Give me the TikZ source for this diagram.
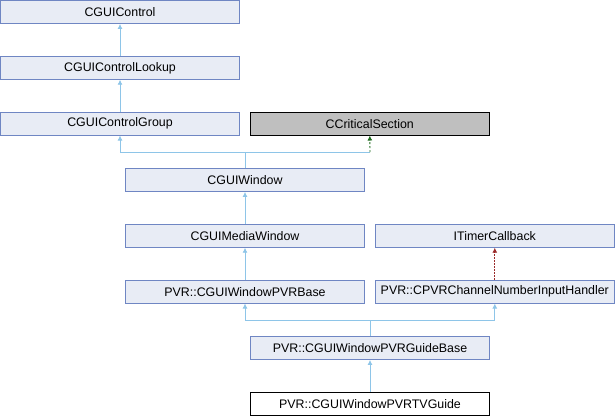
\documentclass[tikz,border=0pt]{standalone}
\usepackage{fontspec}
\setmainfont{Liberation Sans}
\usetikzlibrary{arrows.meta,positioning}
\definecolor{boxfill}{HTML}{E8ECF5}
\definecolor{boxline}{HTML}{6F86C3}
\definecolor{edgeblue}{HTML}{8EC5E8}
\definecolor{critfill}{HTML}{BFBFBF}
\definecolor{protgreen}{HTML}{1E6B1E}
\definecolor{privred}{HTML}{9A2A2A}
\tikzset{
 box/.style={draw=boxline,fill=boxfill,line width=0.8pt,minimum width=239pt,
             minimum height=23pt,inner sep=0pt,font=\fontsize{12.4}{15}\selectfont},
 arrow/.style={-{Latex[length=5pt,width=5pt]},edgeblue,line width=0.9pt},
}
\begin{document}
\begin{tikzpicture}[x=1pt,y=-1pt,node distance=32pt and 10pt]
\useasboundingbox (0,0) rectangle (615,416);
\node[box] (ctrl) at (120,12) {CGUIControl};
\node[box,below=of ctrl] (lookup) {CGUIControlLookup};
\node[box,below=of lookup] (group) {CGUIControlGroup};
\node[box,draw=black,fill=critfill,right=10pt of group] (crit) {CCriticalSection};
\node[box] (win) at (245,180) {CGUIWindow};
\node[box,below=of win] (media) {CGUIMediaWindow};
\node[box,right=10pt of media] (timer) {ITimerCallback};
\node[box,below=of media] (pvrbase) {PVR::CGUIWindowPVRBase};
\node[box,right=10pt of pvrbase] (handler) {PVR::CPVRChannelNumberInputHandler};
\node[box] (guidebase) at (370,348) {PVR::CGUIWindowPVRGuideBase};
\node[box,draw=black,fill=white,below=of guidebase] (tvguide) {PVR::CGUIWindowPVRTVGuide};
\coordinate (wj) at (245,152);
\coordinate (cj) at (370,152);
\coordinate (gj) at (370,320);
\draw[arrow] (lookup) -- (ctrl);
\draw[arrow] (group) -- (lookup);
\draw[arrow] (win.north) -- (wj) -| (group.south);
\draw[edgeblue,line width=0.9pt] (wj) -- (cj);
\draw[arrow,protgreen,dash pattern=on 2pt off 2pt] (cj) -- (crit.south);
\draw[arrow] (media) -- (win);
\draw[arrow] (pvrbase) -- (media);
\draw[arrow,privred,dash pattern=on 1.5pt off 1.5pt] (handler) -- (timer);
\draw[arrow] (guidebase.north) -- (gj) -| (pvrbase.south);
\draw[arrow] (gj) -| (handler.south);
\draw[arrow] (tvguide) -- (guidebase);
\end{tikzpicture}
\end{document}
